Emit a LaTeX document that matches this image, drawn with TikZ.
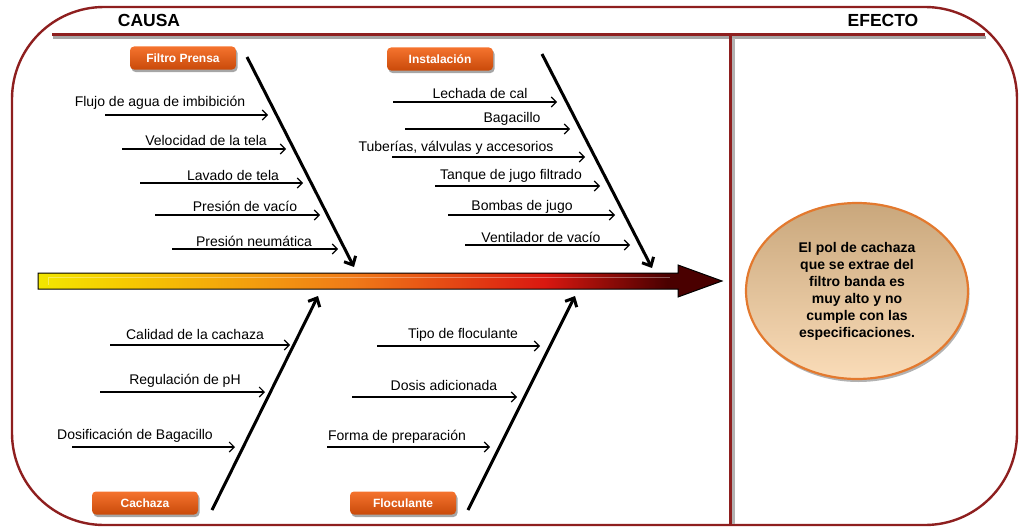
\documentclass[tikz,border=0pt]{standalone}
\usepackage{fontspec}
\setmainfont{Liberation Sans}
\usetikzlibrary{arrows.meta,shadows,shapes.geometric}
\definecolor{frame}{HTML}{8E1F1F}
\definecolor{boxtop}{HTML}{F5732E}
\definecolor{boxbot}{HTML}{C94A0A}
\definecolor{barY}{HTML}{F2E600}
\definecolor{barY2}{HTML}{F6CC00}
\definecolor{barO}{HTML}{F07A18}
\definecolor{barR}{HTML}{DA1810}
\definecolor{barD}{HTML}{4A0000}
\definecolor{elltop}{HTML}{C9A77C}
\definecolor{ellbot}{HTML}{FADCB8}
\definecolor{ellline}{HTML}{E3792E}
\pgfdeclarehorizontalshading{fishbar}{100bp}{color(0bp)=(barY); color(25bp)=(barY); color(31bp)=(barY2); color(48bp)=(barO); color(62bp)=(barR); color(71bp)=(barD); color(100bp)=(barD)}
\tikzset{
  lbl/.style={font=\fontsize{14}{16}\selectfont, inner sep=0pt},
  catbox/.style={rectangle, rounded corners=4pt, top color=boxtop, bottom color=boxbot,
    minimum width=106pt, minimum height=23pt, inner sep=0pt, text=white,
    font=\fontsize{12}{14}\selectfont\bfseries,
    drop shadow={shadow xshift=1.5pt, shadow yshift=-2.5pt, opacity=0.35, fill=black}},
  bone/.style={line width=3pt, black, -{Straight Barb[length=7pt,width=13pt,line width=3pt]}},
  sub/.style={line width=1.1pt, black, -{Straight Barb[length=5pt,width=10pt,line width=1.1pt]}},
  hdr/.style={font=\fontsize{17.5}{20}\selectfont\bfseries, inner sep=0pt}
}
\begin{document}
\begin{tikzpicture}[x=1pt,y=-1pt]
\useasboundingbox (0,0) rectangle (1019,527);
% frame
\draw[frame, line width=2.4pt, rounded corners=92pt] (12,7) rectangle (1017,525);
% header line with shadow
\draw[black!35, line width=3pt] (53,38) -- (986,38);
\draw[frame, line width=3pt] (52,35) -- (985,35);
\draw[black!30, line width=3pt] (733,38) -- (733,524);
\draw[frame, line width=3pt] (730,35) -- (730,524);
\node[hdr] (causa) at (149,20) {CAUSA};
\node[hdr] (efecto) at (883,20) {EFECTO};
% main arrow
\shadedraw[shading=fishbar, draw=black, line width=1pt] (38,273) -- (678,273) -- (678,265) -- (722,281) -- (678,297) -- (678,289) -- (38,289) -- cycle;
\draw[white, line width=0.7pt, opacity=0.35] (48,285) -- (48,277) -- (670,277);
% category boxes
\node[catbox] (fp) at (183,58) {Filtro Prensa};
\node[catbox] (ins) at (440,59) {Instalación};
\node[catbox] (cac) at (145,503) {Cachaza};
\node[catbox] (flo) at (403,503) {Floculante};
% bones
\coordinate (fpS) at (247,57); \coordinate (fpE) at (354,267);
\coordinate (inS) at (542,54); \coordinate (inE) at (652,268);
\coordinate (caS) at (212,510); \coordinate (caE) at (318,296);
\coordinate (flS) at (468,510); \coordinate (flE) at (575,296);
\draw[bone] (fpS) -- (fpE);
\draw[bone] (inS) -- (inE);
\draw[bone] (caS) -- (caE);
\draw[bone] (flS) -- (flE);
% Filtro Prensa causes
\node[lbl] (a1) at (160,103) {Flujo de agua de imbibición};
\coordinate (a1s) at (105,115); \coordinate (a1e) at (268,115);
\node[lbl] (a2) at (206,140) {Velocidad de la tela};
\coordinate (a2s) at (122,149); \coordinate (a2e) at (286,149);
\node[lbl] (a3) at (233,175) {Lavado de tela};
\coordinate (a3s) at (140,183); \coordinate (a3e) at (303,183);
\node[lbl] (a4) at (245,206) {Presión de vacío};
\coordinate (a4s) at (155,215); \coordinate (a4e) at (320,215);
\node[lbl] (a5) at (254,241) {Presión neumática};
\coordinate (a5s) at (172,249); \coordinate (a5e) at (338,249);
\foreach \i in {1,...,5} \draw[sub] (a\i s) -- (a\i e);
% Instalación causes
\node[lbl] (b1) at (480,93) {Lechada de cal};
\coordinate (b1s) at (393,102); \coordinate (b1e) at (557,102);
\node[lbl] (b2) at (512,119) {Bagacillo};
\coordinate (b2s) at (405,129); \coordinate (b2e) at (570,129);
\node[lbl] (b3) at (456,148) {Tuberías, válvulas y accesorios};
\coordinate (b3s) at (392,157); \coordinate (b3e) at (585,157);
\node[lbl] (b4) at (511,176) {Tanque de jugo filtrado};
\coordinate (b4s) at (435,186); \coordinate (b4e) at (600,186);
\node[lbl] (b5) at (522,207) {Bombas de jugo};
\coordinate (b5s) at (448,215); \coordinate (b5e) at (615,215);
\node[lbl] (b6) at (541,237) {Ventilador de vacío};
\coordinate (b6s) at (465,245); \coordinate (b6e) at (630,245);
\foreach \i in {1,...,6} \draw[sub] (b\i s) -- (b\i e);
% Cachaza causes
\node[lbl] (c1) at (195,334) {Calidad de la cachaza};
\coordinate (c1s) at (110,345); \coordinate (c1e) at (290,345);
\node[lbl] (c2) at (185,381) {Regulación de pH};
\coordinate (c2s) at (100,392); \coordinate (c2e) at (265,392);
\node[lbl] (c3) at (135,436) {Dosificación de Bagacillo};
\coordinate (c3s) at (72,447); \coordinate (c3e) at (235,447);
\foreach \i in {1,2,3} \draw[sub] (c\i s) -- (c\i e);
% Floculante causes
\node[lbl] (d1) at (463,335) {Tipo de floculante};
\coordinate (d1s) at (377,346); \coordinate (d1e) at (540,346);
\node[lbl] (d2) at (444,385) {Dosis adicionada};
\coordinate (d2s) at (352,397); \coordinate (d2e) at (517,397);
\node[lbl] (d3) at (397,437) {Forma de preparación};
\coordinate (d3s) at (327,447); \coordinate (d3e) at (490,447);
\foreach \i in {1,2,3} \draw[sub] (d\i s) -- (d\i e);
% effect ellipse
\node[ellipse, minimum width=222pt, minimum height=176pt, inner sep=0pt,
  top color=elltop, bottom color=ellbot, draw=ellline, line width=2.2pt,
  drop shadow={shadow xshift=1.5pt, shadow yshift=-3pt, opacity=0.3, fill=black},
  align=center, font=\fontsize{14}{17}\selectfont\bfseries] (eff) at (857,291)
  {El pol de cachaza\\que se extrae del\\filtro banda es\\muy alto y no\\cumple con las\\especificaciones.};
\end{tikzpicture}
\end{document}
